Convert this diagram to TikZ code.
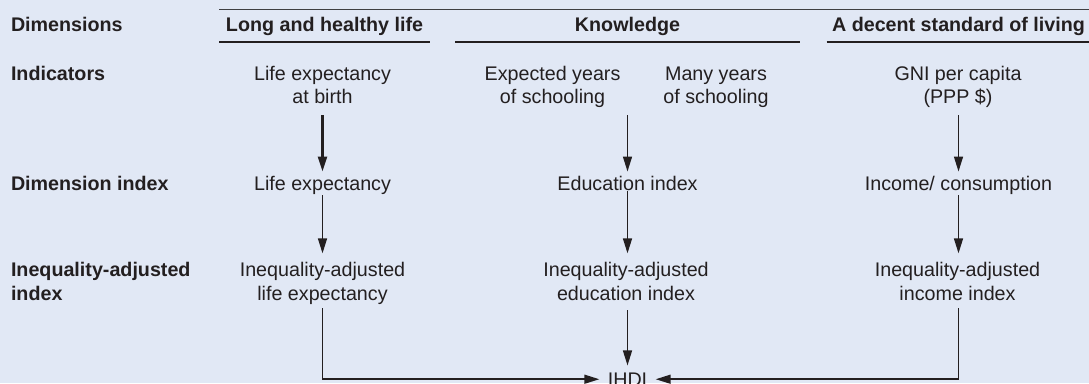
\documentclass[tikz,border=0pt]{standalone}
\usepackage{fontspec}
\setmainfont{Liberation Sans}
\usetikzlibrary{arrows.meta}
\definecolor{bg}{HTML}{E1E8F5}
\definecolor{ink}{HTML}{231F20}
\definecolor{topline}{HTML}{3F3F42}
\newcommand{\mlc}[1]{\begin{tabular}[t]{@{}c@{}}#1\end{tabular}}
\newcommand{\mll}[1]{\begin{tabular}[t]{@{}l@{}}#1\end{tabular}}
\begin{document}
\begin{tikzpicture}[x=1pt,y=-1pt,
  every node/.style={inner sep=0pt, outer sep=0pt, text=ink, anchor=base},
  txt/.style={font=\fontsize{19.7}{23.5}\selectfont},
  lbl/.style={font=\fontsize{19.7}{23.5}\selectfont\bfseries, anchor=base west},
  hdr/.style={font=\fontsize{19.7}{23.5}\selectfont\bfseries},
  arr/.style={draw=ink, line width=1.5pt, -{Triangle[length=15pt,width=9pt]}},
  rulefill/.style={draw=ink, line width=1.6pt}]
\useasboundingbox (0,0) rectangle (1089,383);
\fill[bg] (0,0) rectangle (1089,383);

% top rule and header underlines
\draw[topline, line width=1.3pt] (219,9.5) -- (1089,9.5);
\draw[rulefill] (219,42) -- (429.5,42);
\draw[rulefill] (455,42) -- (800,42);
\draw[rulefill] (826.5,42) -- (1089,42);

% left labels
\node[lbl] (ldim) at (11,31.5) {Dimensions};
\node[lbl] (lind) at (11,80) {Indicators};
\node[lbl] (ldix) at (11,190) {Dimension index};
\node[lbl] (liad) at (11,276.5) {\mll{Inequality-adjusted\\index}};

% headers
\node[hdr] (h1) at (324.5,31.5) {Long and healthy life};
\node[hdr] (h2) at (627.5,31.5) {Knowledge};
\node[hdr] (h3) at (958.5,31.5) {A decent standard of living};

% indicators
\node[txt] (ind1) at (322.5,80) {\mlc{Life expectancy\\at birth}};
\node[txt] (ind2) at (552.5,80) {\mlc{Expected years\\of schooling}};
\node[txt] (ind3) at (716,80) {\mlc{Many years\\of schooling}};
\node[txt] (ind4) at (958,80) {\mlc{GNI per capita\\(PPP \$)}};

% dimension indices
\node[txt] (di1) at (322.5,190) {Life expectancy};
\node[txt] (di2) at (627.5,190) {Education index};
\node[txt] (di3) at (958.5,190) {Income/ consumption};

% inequality-adjusted
\node[txt] (ia1) at (322.5,276.5) {\mlc{Inequality-adjusted\\life expectancy}};
\node[txt] (ia2) at (626,276.5) {\mlc{Inequality-adjusted\\education index}};
\node[txt] (ia3) at (957.5,276.5) {\mlc{Inequality-adjusted\\income index}};

% IHDI
\node[txt] (ihdi) at (627.5,386) {IHDI};

% connectors
\draw[arr, line width=2.2pt, shorten <=4.5pt, shorten >=4.2pt] (ind1.south) -- (di1.north);
\draw[arr, shorten <=4.5pt, shorten >=4.2pt] (ind2.south -| di2.north) -- (di2.north);
\draw[arr, shorten <=4.5pt, shorten >=4.2pt] (ind4.south -| di3.north) -- (di3.north);

\draw[arr, shorten <=1.3pt, shorten >=6.7pt] (di1.south) -- (ia1.north -| di1.south);
\draw[arr, shorten <=1.3pt, shorten >=6.7pt] (di2.south) -- (ia2.north -| di2.south);
\draw[arr, shorten <=1.3pt, shorten >=6.7pt] (di3.south) -- (ia3.north -| di3.south);

\draw[arr, shorten <=3pt, shorten >=7pt] (ia2.south -| ihdi.north) -- (ihdi.north);
\draw[arr, shorten <=1.3pt, shorten >=8.5pt] (ia1.south) |- (ihdi.west);
\draw[arr, shorten <=1.3pt, shorten >=8.5pt] (ia3.south -| di3.south) |- (ihdi.east);
\end{tikzpicture}
\end{document}
